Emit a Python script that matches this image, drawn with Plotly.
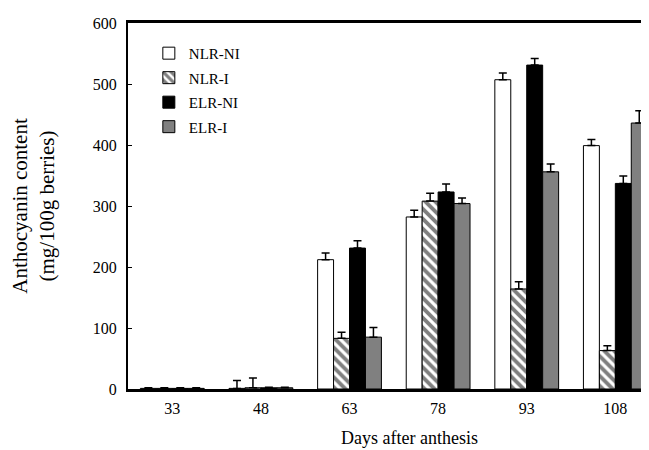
import plotly.graph_objects as go

days = ["33", "48", "63", "78", "93", "108"]
series_names = ["NLR-NI", "NLR-I", "ELR-NI", "ELR-I"]
nlr_ni = [1, 1, 212, 282, 507, 399]
nlr_ni_err = [1, 13, 11, 11, 11, 10]
nlr_i = [1, 2, 83, 308, 164, 63]
nlr_i_err = [1, 16, 10, 13, 12, 8]
elr_ni = [1, 2, 231, 323, 531, 337]
elr_ni_err = [1, 1, 12, 13, 11, 12]
elr_i = [1, 2, 85, 304, 356, 436]
elr_i_err = [1, 1, 16, 9, 13, 20]

values = [nlr_ni, nlr_i, elr_ni, elr_i]
errors = [nlr_ni_err, nlr_i_err, elr_ni_err, elr_i_err]
fills = ["white", "white", "black", "#808080"]
patterns = [None, dict(shape="\\", fgcolor="black", bgcolor="white", size=7, solidity=0.55),
            None, None]

FONT = "Liberation Serif"
fig = go.Figure()
for name, v, e, c, p in zip(series_names, values, errors, fills, patterns):
    marker = dict(color=c, line=dict(color="black", width=1))
    if p:
        marker["pattern"] = p
    fig.add_trace(go.Bar(
        x=days, y=v, name=name, legendgroup=name,
        marker=marker,
        error_y=dict(type="data", symmetric=False, array=e,
                     arrayminus=[0] * len(e), color="black",
                     thickness=1.5, width=4),
    ))

fig.update_layout(
    width=641, height=442,
    margin=dict(l=120, r=0, t=15, b=61),
    paper_bgcolor="white", plot_bgcolor="white",
    barmode="group", bargap=0.28, bargroupgap=0,
    font=dict(family=FONT, color="black", size=16),
    showlegend=True,
    legend=dict(x=0.04, y=0.962, xanchor="left", yanchor="top",
                bgcolor="rgba(0,0,0,0)", font=dict(family=FONT, size=15),
                tracegroupgap=2, itemwidth=30),
    xaxis=dict(range=[-0.5, 5.38], showline=True, linecolor="black",
               linewidth=3, mirror=True, ticks="", showgrid=False,
               ticklabelstandoff=3,
               tickfont=dict(family=FONT, size=16)),
    yaxis=dict(range=[0, 600], dtick=100, showline=True, linecolor="black",
               linewidth=2, ticks="inside", ticklen=4, tickcolor="black",
               showgrid=False, zeroline=False, ticklabelstandoff=6,
               tickfont=dict(family=FONT, size=16),
               title=dict(text="Anthocyanin content<br>(mg/100g berries)",
                          font=dict(family=FONT, size=21), standoff=32)),
    annotations=[dict(text="Days after anthesis", xref="paper", yref="paper",
                      x=0.541, y=-0.134, xanchor="center", yanchor="middle",
                      showarrow=False, font=dict(family=FONT, size=18))],
)

fig.write_html("out.html")
